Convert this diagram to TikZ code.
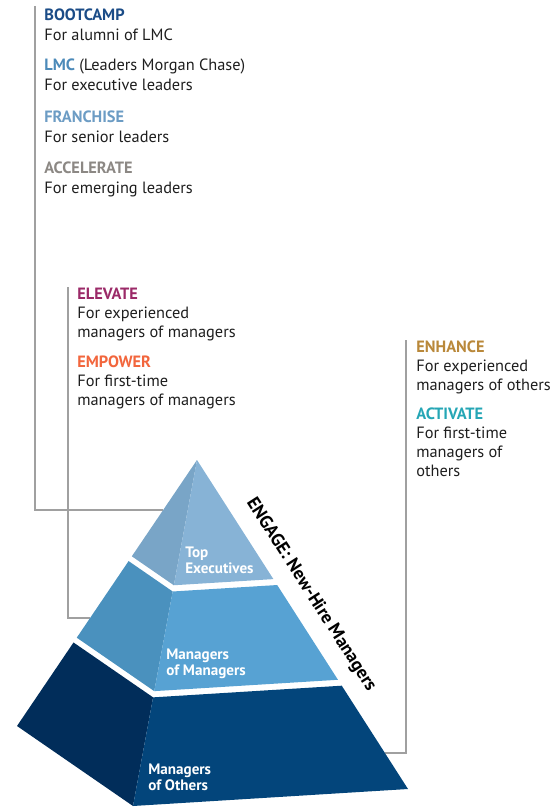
\documentclass[tikz,border=0pt]{standalone}
\usepackage{fontspec}
\setmainfont{PT Sans}
\usetikzlibrary{calc,positioning}
\definecolor{bootc}{HTML}{1B4C87}
\definecolor{lmcc}{HTML}{4C8AB9}
\definecolor{franc}{HTML}{6C9CC4}
\definecolor{accel}{HTML}{8C8884}
\definecolor{elev}{HTML}{9B2A68}
\definecolor{empw}{HTML}{F2663D}
\definecolor{enhc}{HTML}{B9883A}
\definecolor{actv}{HTML}{25A6B5}
\definecolor{txtgray}{HTML}{1E1E1E}
\definecolor{linegray}{HTML}{A0A0A0}
\definecolor{topL}{HTML}{79A5C7}
\definecolor{topF}{HTML}{87B3D6}
\definecolor{midL}{HTML}{4A91BE}
\definecolor{midF}{HTML}{57A2D3}
\definecolor{botL}{HTML}{012D5A}
\definecolor{botF}{HTML}{03457B}
\newcommand{\progname}[2]{\textcolor{#1}{\textbf{#2}}}
\tikzstyle{prog}=[anchor=north west,inner sep=0pt,align=left,text=txtgray,
                  font=\fontsize{9.3}{11.6}\selectfont]
\tikzstyle{prog2}=[prog,font=\fontsize{9.3}{10.9}\selectfont]
\tikzstyle{tier}=[anchor=north west,inner sep=0pt,align=left,text=white,
                  font=\bfseries\fontsize{8.6}{9.1}\selectfont]
\tikzstyle{lead}=[draw=linegray,line width=0.7pt]

\begin{document}
\begin{tikzpicture}[x=0.02cm,y=0.02cm]
\useasboundingbox (0,0) rectangle (557,-807);
% pyramid corners
\coordinate (apex) at (197,-460);
\coordinate (lft) at (17,-726);
\coordinate (frt) at (133,-806);
\coordinate (rgt) at (408,-789);
% leader lines
\coordinate (l1) at (35,-6);
\coordinate (l2) at (68,-287);
\coordinate (l3) at (406,-340);
\coordinate (e1) at ($(apex)!.188!(lft)$);
\coordinate (e2) at ($(apex)!.594!(lft)$);
\coordinate (e3) at ($(apex)!.8906!(rgt)$);
\draw[lead] (l1) |- (e1);
\draw[lead] (l2) |- (e2);
\draw[lead] (l3) |- (e3);
% tiers
\foreach \ta/\tb/\cl/\cf in {0/.362/topL/topF,.38/.668/midL/midF,.686/1/botL/botF}{
  \fill[\cl] ($(apex)!\ta!(lft)$) -- ($(apex)!\tb!(lft)$)
    -- ($(apex)!\tb!(frt)$) -- ($(apex)!\ta!(frt)$) -- cycle;
  \fill[\cf] ($(apex)!\ta!(frt)$) -- ($(apex)!\tb!(frt)$)
    -- ($(apex)!\tb!(rgt)$) -- ($(apex)!\ta!(rgt)$) -- cycle;
}
\node[tier] (top) at (185,-547) {Top\\Executives};
\node[tier] (mom) at (166,-649) {Managers\\of Managers};
\node[tier] (moo) at (148,-764) {Managers\\of Others};
\node[rotate=-57.3,inner sep=0pt,font=\bfseries\fontsize{10.3}{11}\selectfont]
  (engage) at (311,-595) {ENGAGE: New-Hire Managers};
% programs
\node[prog] (bootcamp) at (44,-8) {\progname{bootc}{BOOTCAMP}\\For alumni of LMC};
\node[prog] (lmc) at (44,-58.5) {\progname{lmcc}{LMC} (Leaders Morgan Chase)\\For executive leaders};
\node[prog] (franchise) at (44,-110.5) {\progname{franc}{FRANCHISE}\\For senior leaders};
\node[prog] (accelerate) at (44,-161.5) {\progname{accel}{ACCELERATE}\\For emerging leaders};
\node[prog2] (elevate) at (77,-287.5) {\progname{elev}{ELEVATE}\\For experienced\\managers of managers};
\node[prog2] (empower) at (77,-355.5) {\progname{empw}{EMPOWER}\\For first-time\\managers of managers};
\node[prog2] (enhance) at (416,-340.5) {\progname{enhc}{ENHANCE}\\For experienced\\managers of others};
\node[prog2] (activate) at (416,-407.5) {\progname{actv}{ACTIVATE}\\For first-time\\managers of\\others};
\end{tikzpicture}
\end{document}
